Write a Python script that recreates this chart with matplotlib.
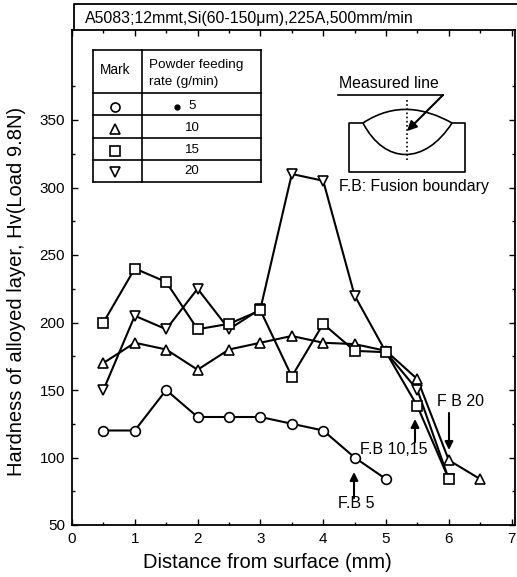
import numpy as np
import matplotlib
matplotlib.use("Agg")
import matplotlib.pyplot as plt
from matplotlib.path import Path
from matplotlib.patches import PathPatch

plt.rcParams['font.family'] = ['Liberation Sans', 'DejaVu Sans']

W, H = 517, 577

# data
x_circle = [0.5, 1, 1.5, 2, 2.5, 3, 3.5, 4, 4.5, 5]
y_circle = [120, 120, 150, 130, 130, 130, 125, 120, 100, 84]
x_tri = [0.5, 1, 1.5, 2, 2.5, 3, 3.5, 4, 4.5, 5, 5.5, 6, 6.5]
y_tri = [170, 185, 180, 165, 180, 185, 190, 185, 184, 179, 158, 98, 84]
x_square = [0.5, 1, 1.5, 2, 2.5, 3, 3.5, 4, 4.5, 5, 5.5, 6]
y_square = [200, 240, 230, 195, 199, 209, 160, 199, 179, 178, 138, 84]
x_invtri = [0.5, 1, 1.5, 2, 2.5, 3, 3.5, 4, 4.5, 5, 5.5, 6]
y_invtri = [150, 205, 195, 225, 195, 210, 310, 305, 220, 178, 150, 84]

rates = ['5', '10', '15', '20']
marks = ['o', '^', 's', 'v']
xticks = [0, 1, 2, 3, 4, 5, 6, 7]
yticks = [50, 100, 150, 200, 250, 300, 350]

fig = plt.figure(figsize=(W / 100, H / 100), dpi=100)
ax = fig.add_axes([72 / W, 1 - 525 / H, (515 - 72) / W, (525 - 30) / H])
ax.set_xlim(0, (515 - 72) / 62.8)
ax.set_ylim(50, 50 + (525 - 30) / 67.5 * 50)

style = dict(color='k', lw=1.5, mfc='white', mec='k', mew=1.2, ms=7, clip_on=False)
ax.plot(x_circle, y_circle, marker='o', **style)
ax.plot(x_tri, y_tri, marker='^', **style)
ax.plot(x_invtri, y_invtri, marker='v', **style)
ax.plot(x_square, y_square, marker='s', **style)

ax.set_xticks(xticks)
ax.set_yticks(yticks)
ax.set_xticks(np.arange(0.5, 7, 1), minor=True)
ax.set_yticks(np.arange(75, 400, 50), minor=True)
ax.tick_params(which='major', direction='in', length=4, width=1, labelsize=11, pad=5,
               top=True, right=True)
ax.tick_params(which='minor', direction='in', length=2, width=1, top=True, right=True)
for s in ax.spines.values():
    s.set_linewidth(1.3)

# overlay in pixel coords for the header, table and sketch
ov = fig.add_axes([0, 0, 1, 1])
ov.set_xlim(0, W)
ov.set_ylim(H, 0)
ov.axis('off')

ov.text(267, 563, 'Distance from surface (mm)', fontsize=14.5, ha='center', va='center')
ov.text(17, 291, 'Hardness of alloyed layer, Hv(Load 9.8N)', fontsize=14.5, rotation=90,
        ha='center', va='center')

# header
ov.plot([74, 74, 517], [30, 4, 4], color='k', lw=1.3)
ov.text(85, 19, 'A5083;12mmt,Si(60-150\u03bcm),225A,500mm/min', fontsize=11.4, va='center')

# table
for yy in [50, 93, 115, 138, 160, 182]:
    ov.plot([93, 261], [yy, yy], color='k', lw=1.2)
for xx in [93, 142, 261]:
    ov.plot([xx, xx], [50, 182], color='k', lw=1.2)
ov.text(115, 70, 'Mark', fontsize=9.8, ha='center', va='center')
ov.text(149, 65, 'Powder feeding', fontsize=9.7, va='center')
ov.text(149, 82, 'rate (g/min)', fontsize=9.7, va='center')
row_y = [107, 129, 151, 172]
for ry, mk, rate in zip(row_y, marks, rates):
    ov.plot([115], [ry], marker=mk, mfc='white', mec='k', mew=1.2, ms=6.5)
    ov.text(192, ry - 1, rate, fontsize=9.5, ha='center', va='center')
ov.plot([177], [106.5], marker='o', color='k', ms=3.5)

# weld sketch
ov.plot([363, 349, 349, 465, 465, 452], [123, 123, 172, 172, 123, 123], color='k', lw=1.2)
top_arc = Path([(363, 123), (395, 102), (425, 108), (452, 123)], [Path.MOVETO, Path.CURVE4, Path.CURVE4, Path.CURVE4])
low_arc = Path([(363, 123), (385, 165), (425, 165), (452, 123)], [Path.MOVETO, Path.CURVE4, Path.CURVE4, Path.CURVE4])
ov.add_patch(PathPatch(top_arc, fc='none', ec='k', lw=1.2))
ov.add_patch(PathPatch(low_arc, fc='none', ec='k', lw=1.2))
ov.plot([407, 407], [100, 161], color='k', lw=1.2, ls=(0, (1, 1.5)))
ov.plot([338, 443], [95, 95], color='k', lw=1.2)
ov.annotate('', xy=(407, 131), xytext=(443, 95),
            arrowprops=dict(arrowstyle='-|>', color='k', lw=1.5, mutation_scale=14, shrinkA=0, shrinkB=0))
ov.text(339, 84, 'Measured line', fontsize=11.4, va='center')
ov.text(339, 186, 'F.B: Fusion boundary', fontsize=11.4, va='center')

# fusion boundary notes
ov.text(375, 504, 'F.B 5', fontsize=11.5, ha='right', va='center')
ov.text(360, 449, 'F.B 10,15', fontsize=11.5, va='center')
ov.text(437, 402, 'F B 20', fontsize=11.5, va='center')
for x0, y0, x1, y1 in [(354, 498, 354, 472), (415, 442, 415, 419), (449, 413, 449, 450)]:
    ov.annotate('', xy=(x1, y1), xytext=(x0, y0),
                arrowprops=dict(arrowstyle='-|>', color='k', lw=1.5, mutation_scale=12, shrinkA=0, shrinkB=0))

fig.savefig('out.png', dpi=100)
